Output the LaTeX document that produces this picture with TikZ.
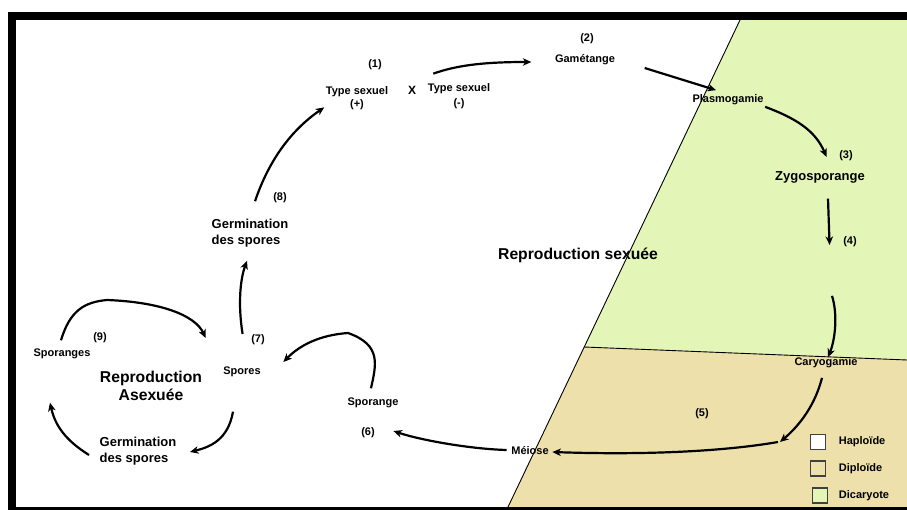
\documentclass[tikz,border=0pt]{standalone}
\usepackage{fontspec}
\setmainfont{Liberation Sans}
\usetikzlibrary{positioning,arrows.meta,calc}

\definecolor{dicaryon}{RGB}{228,245,184}
\definecolor{diploid}{RGB}{237,224,171}

\begin{document}
\begin{tikzpicture}[
    x=1pt, y=-1pt,
    font=\bfseries\fontsize{11}{13}\selectfont,
    lbl/.style={inner sep=1.5pt, align=center},
    big/.style={lbl, font=\bfseries\fontsize{15.7}{18}\selectfont},
    twoline/.style={lbl, align=left, font=\bfseries\fontsize{13}{16}\selectfont},
    cyc/.style={->, >={Stealth[length=8.5pt,width=7.5pt,inset=2.5pt]}, line width=2.2pt},
    legendbox/.style={draw=black!75, line width=1.4pt, minimum size=15pt, inner sep=0pt},
  ]
  \useasboundingbox (0,0) rectangle (907,510);

  % --- Ploidy zones ---
  \fill[dicaryon] (740,20) -- (907,20) -- (907,360) -- (584,347) -- cycle;
  \fill[diploid] (584,347) -- (907,360) -- (907,507) -- (508,507) -- cycle;
  \draw[line width=0.9pt] (740,20) -- (508,507);
  \draw[line width=0.9pt] (584,347) -- (907,360);

  % --- Frame ---
  \fill[black] (8,12.5) rectangle (907,20);
  \fill[black] (8,12.5) rectangle (16,510);
  \fill[black] (8,506.5) rectangle (907,510);

  % --- Sexual cycle ---
  \node[lbl] (n1) at (375,65) {(1)};
  \node[lbl] (tplus) at (357,98) {Type sexuel\\(+)};
  \node[lbl, font=\bfseries\fontsize{12}{14}\selectfont] (cross) at (412,90) {X};
  \node[lbl] (tminus) at (459,96) {Type sexuel\\[2pt](-)};
  \node[lbl] (n2) at (587,39) {(2)};
  \node[lbl] (gam) at (585,60) {Gamétange};
  \node[lbl] (plasmo) at (728,100) {Plasmogamie};
  \node[lbl] (n3) at (846,156) {(3)};
  \node[lbl, font=\bfseries\fontsize{13}{15}\selectfont] (zygo) at (820,177) {Zygosporange};
  \node[lbl] (n4) at (850,242) {(4)};
  \node[big] (sexuee) at (578,255) {Reproduction sexuée};
  \node[lbl] (caryo) at (826,363) {Caryogamie};
  \node[lbl] (n5) at (702,414) {(5)};
  \node[lbl] (meiose) at (530,451) {Méiose};
  \coordinate (bend) at (780,442);
  \node[lbl] (sporange) at (373,403) {Sporange};
  \node[lbl] (n6) at (368,433) {(6)};
  \node[lbl] (n7) at (258,340) {(7)};
  \node[lbl] (spores) at (242,372) {Spores};
  \node[lbl] (n8) at (280,198) {(8)};
  \node[twoline] (germA) at (250,233) {Germination\\des spores};

  % --- Asexual cycle ---
  \node[lbl] (n9) at (100,338) {(9)};
  \node[lbl] (sporanges) at (62,354) {Sporanges};
  \node[big] (asexuee) at (151,386) {Reproduction\\Asexuée};
  \node[twoline] (germB) at (138,451) {Germination\\des spores};

  % --- Arrows ---
  \draw[cyc] ([shift={(5,-16)}]germA.north) .. controls (265,172) and (283,136) .. ([shift={(0,-4)}]tplus.south west);
  \draw[cyc] ([shift={(7,-8)}]tminus.north west) .. controls (455,66) and (480,62) .. ([shift={(-22,2)}]gam.west);
  \draw[cyc] ([shift={(28,8)}]gam.east) -- ([shift={(-12,-3)}]plasmo.north);
  \draw[cyc] (plasmo.south east) .. controls (795,118) and (815,130) .. ([shift={(-11,1)}]n3.west);
  \draw[cyc] ([shift={(8,14)}]zygo.south) -- ([shift={(-12,3)}]n4.west);
  \draw[cyc] ([shift={(-18,47)}]n4.south) .. controls (838,315) and (835,340) .. ([shift={(2,1)}]caryo.north);
  \draw[cyc] ([shift={(-4,8)}]caryo.south) .. controls (815,405) and (800,425) .. (bend);
  \draw[cyc] ([shift={(-2,0)}]bend) .. controls (720,452) and (640,455) .. ([shift={(2,1)}]meiose.east);
  \draw[cyc] ([shift={(-3,-1)}]meiose.west) .. controls (470,449) and (420,440) .. ([shift={(17,-2)}]n6.east);
  \draw[cyc] ([shift={(-2,-8)}]sporange.north) .. controls (376,365) and (382,345) .. (348,333)
    .. controls (320,335) and (300,345) .. ([shift={(21,-10)}]spores.east);
  \draw[cyc] ([shift={(-7,-6)}]n7.west) .. controls (238,305) and (240,280) .. ([shift={(-3,12)}]germA.south);
  \draw[cyc] ([shift={(-9,33)}]spores.south) .. controls (228,440) and (210,447) .. ([shift={(12,1)}]germB.east);
  \draw[cyc] ([shift={(-9,4)}]germB.west) .. controls (65,440) and (55,425) .. ([shift={(-12,42)}]sporanges.south);
  \draw[cyc] ([shift={(-1,-7)}]sporanges.north) .. controls (70,310) and (85,302) .. (107,300)
    .. controls (160,302) and (195,315) .. ([shift={(-16,-34)}]spores.west);

  % --- Legend ---
  \node[legendbox, fill=white] (keyHap) at (818,442) {};
  \node[legendbox, fill=diploid] (keyDip) at (818,468.5) {};
  \node[legendbox, fill=dicaryon] (keyDic) at (820,495.5) {};
  \node[lbl, right=11pt of keyHap] (txtHap) {Haploïde};
  \node[lbl, right=11pt of keyDip] (txtDip) {Diploïde};
  \node[lbl, right=9pt of keyDic] (txtDic) {Dicaryote};
\end{tikzpicture}
\end{document}
